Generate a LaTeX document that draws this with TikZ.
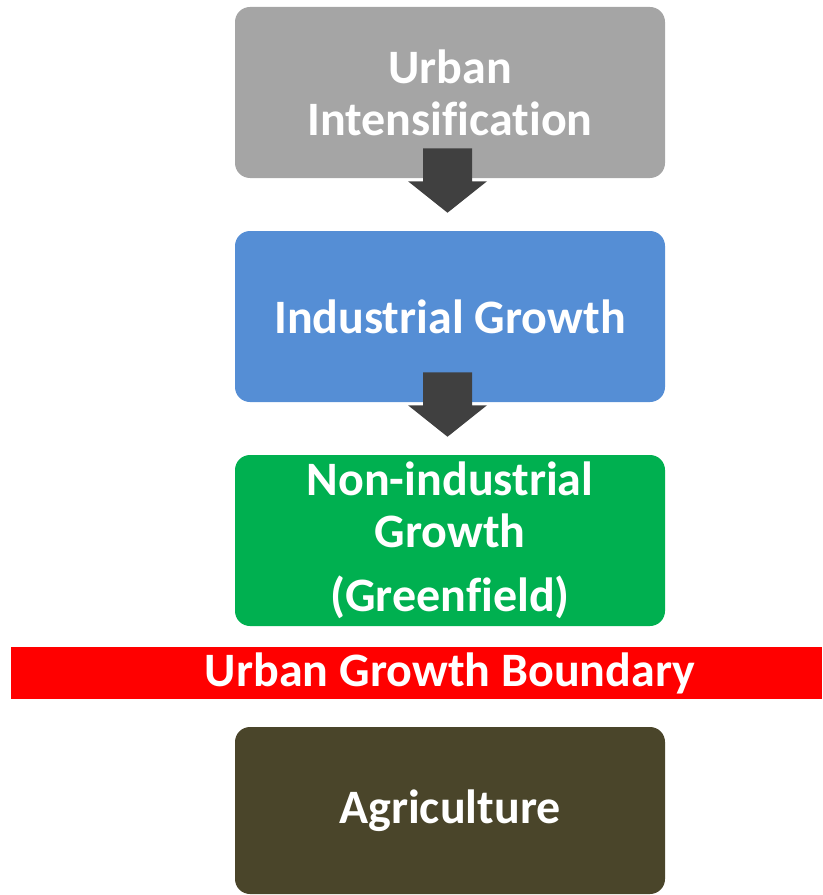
\documentclass[tikz,border=0pt]{standalone}
\usepackage{fontspec}
\setmainfont[Ligatures=NoCommon]{Carlito}
\usetikzlibrary{calc}
\usetikzlibrary{positioning}

\definecolor{urbangray}{HTML}{A5A5A5}
\definecolor{industryblue}{HTML}{558ED5}
\definecolor{greenfieldgreen}{HTML}{00B050}
\definecolor{boundaryred}{HTML}{FF0000}
\definecolor{farmbrown}{HTML}{4A452A}
\definecolor{arrowdark}{HTML}{404040}

\tikzset{
    stage/.style={rounded corners=11.25pt, minimum width=322.5pt, minimum height=128.25pt,
        inner sep=0pt, align=center, text=white, font=\fontsize{36}{39}\selectfont\bfseries},
    bartext/.style={inner sep=0pt, text=white, font=\fontsize{36}{39}\selectfont\bfseries}
}

\begin{document}
\begin{tikzpicture}[x=0.75pt, y=-0.75pt]
            \useasboundingbox (0,0) rectangle (822,895);

            % Stages inside the boundary
            \node[stage, fill=urbangray] (urban) at (450,92.5) {Urban\\Intensification};
            \node[stage, fill=industryblue] (industry) at (450,316.5) {Industrial Growth};
            \node[stage, fill=greenfieldgreen] (greenfield) at (450,540.5) {Non-industrial\\Growth\\[9pt](Greenfield)};

            % Block arrows between stages
            \foreach \from/\to in {urban/industry, industry/greenfield}
                \fill[arrowdark] ($(\from.south)+(-27,-30)$) -- ($(\from.south)+(22,-30)$)
                    -- ($(\from.south)+(22,3)$) -- ($(\from.south)+(37,3)$)
                    -- ($(\to.north)+(-2.5,-18)$)
                    -- ($(\from.south)+(-42,3)$) -- ($(\from.south)+(-27,3)$) -- cycle;

            % Boundary line
            \fill[boundaryred] (11,647) rectangle (822,699);
            \node[bartext] (boundary) at (450,673) {Urban Growth Boundary};

            % Outside the boundary
            \node[stage, fill=farmbrown, minimum height=125.25pt] (farm) at (450,810.5) {Agriculture};

        \end{tikzpicture}
\end{document}
